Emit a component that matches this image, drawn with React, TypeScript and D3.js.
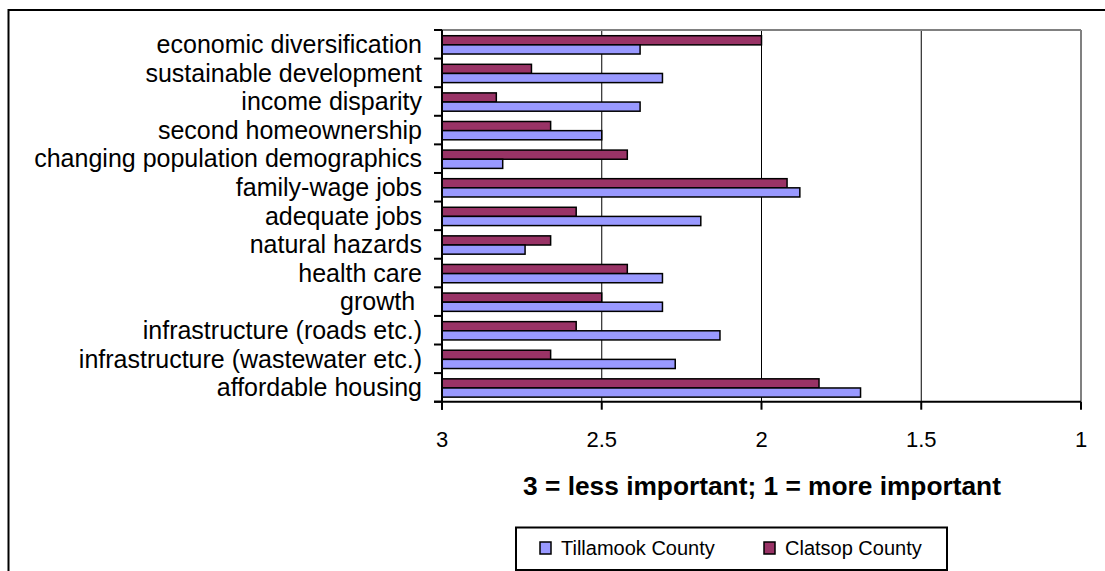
import React from "react";
import * as d3 from "d3";

const categories = [
  "economic diversification",
  "sustainable development",
  "income disparity",
  "second homeownership",
  "changing population demographics",
  "family-wage jobs",
  "adequate jobs",
  "natural hazards",
  "health care",
  "growth ",
  "infrastructure (roads etc.)",
  "infrastructure (wastewater etc.)",
  "affordable housing",
];
const tillamook = [2.38, 2.31, 2.38, 2.5, 2.81, 1.88, 2.19, 2.74, 2.31, 2.31, 2.13, 2.27, 1.69];
const clatsop = [2.0, 2.72, 2.83, 2.66, 2.42, 1.92, 2.58, 2.66, 2.42, 2.5, 2.58, 2.66, 1.82];
const xTicks = [3, 2.5, 2, 1.5, 1];
const gridTicks = [2.5, 2, 1.5];
const seriesNames = ["Tillamook County", "Clatsop County"];
const seriesColors = ["#9999FF", "#993366"];
const axisTitle = "3 = less important; 1 = more important";

const FONT = "'Liberation Sans', Arial, sans-serif";

export default function App() {
  const W = 1105;
  const H = 571;
  const left = 442;
  const right = 1081;
  const top = 30;
  const bottom = 401.7;

  const x = d3.scaleLinear().domain([3, 1]).range([left, right]);
  const y = d3.scaleBand<string>().domain(categories).range([top, bottom]).padding(0);
  const bw = y.bandwidth();
  const barH = bw * 0.32;
  const off = bw * 0.2;

  const boundaries = d3.range(categories.length + 1).map((i) => top + i * bw);

  const legendX = 516;
  const legendW = 431;
  const legendItemX = [540, 764];

  return (
    <svg
      width={W}
      height={H}
      style={{ position: "absolute", left: 0, top: 0, background: "#fff" }}
      fontFamily={FONT}
    >
      {/* outer frame */}
      <rect x={8.5} y={10} width={W + 10} height={H + 10} fill="none" stroke="#000" strokeWidth={2} />

      {/* gridlines */}
      {gridTicks.map((t) => (
        <line key={t} x1={x(t)} x2={x(t)} y1={top} y2={bottom} stroke="#000" strokeWidth={1} />
      ))}

      {/* plot border (gray) */}
      <line x1={left} x2={right} y1={top} y2={top} stroke="#808080" strokeWidth={2} />
      <line x1={right} x2={right} y1={top} y2={bottom} stroke="#808080" strokeWidth={2} />

      {/* bars */}
      {categories.map((c, i) => {
        const y0 = (y(c) as number) + off;
        return (
          <g key={c}>
            <rect
              x={x(3)}
              y={y0}
              width={x(clatsop[i]) - x(3)}
              height={barH}
              fill={seriesColors[1]}
              stroke="#000"
              strokeWidth={1.5}
            />
            <rect
              x={x(3)}
              y={y0 + barH}
              width={x(tillamook[i]) - x(3)}
              height={barH}
              fill={seriesColors[0]}
              stroke="#000"
              strokeWidth={1.5}
            />
          </g>
        );
      })}

      {/* left axis */}
      <line x1={left} x2={left} y1={top} y2={bottom + 8} stroke="#000" strokeWidth={2} />
      {boundaries.map((b, i) => (
        <line key={i} x1={left - 8} x2={left} y1={b} y2={b} stroke="#000" strokeWidth={2} />
      ))}
      {categories.map((c) => (
        <text
          key={c}
          x={422}
          y={(y(c) as number) + bw / 2}
          dy="0.35em"
          textAnchor="end"
          fontSize={25}
          fill="#000"
          style={{ whiteSpace: "pre" }}
        >
          {c}
        </text>
      ))}

      {/* bottom axis */}
      <line x1={left - 8} x2={right} y1={bottom} y2={bottom} stroke="#000" strokeWidth={2} />
      {xTicks.map((t) => (
        <g key={t}>
          <line x1={x(t)} x2={x(t)} y1={bottom} y2={bottom + 8} stroke="#000" strokeWidth={2} />
          <text x={x(t)} y={447} textAnchor="middle" fontSize={22} fill="#000">
            {String(t)}
          </text>
        </g>
      ))}
      <text x={762} y={495} textAnchor="middle" fontSize={26.3} fontWeight="bold" fill="#000">
        {axisTitle}
      </text>

      {/* legend */}
      <rect x={legendX} y={527.5} width={legendW} height={42.5} fill="#fff" stroke="#000" strokeWidth={2} />
      {seriesNames.map((s, i) => {
        const lx = legendItemX[i];
        return (
          <g key={s}>
            <rect x={lx} y={542} width={11} height={12} fill={seriesColors[i]} stroke="#000" strokeWidth={1.5} />
            <text x={lx + 21} y={548} dy="0.35em" fontSize={20} fill="#000">
              {s}
            </text>
          </g>
        );
      })}
    </svg>
  );
}
